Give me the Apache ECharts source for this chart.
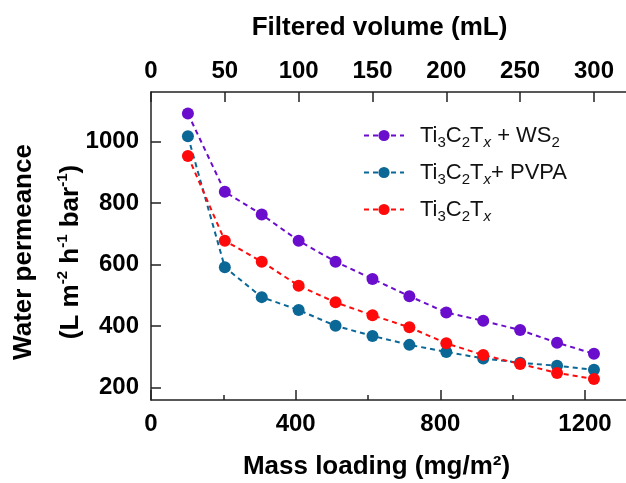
<!DOCTYPE html>
<html>
<head>
<meta charset="utf-8">
<script src="https://cdn.jsdelivr.net/npm/echarts@6/dist/echarts.min.js"></script>
<style>
  html, body { margin: 0; padding: 0; background: #fff; }
  #main { width: 626px; height: 483px; }
</style>
</head>
<body>
<div id="main"></div>
<script>
// data
var volumes = [25, 50, 75, 100, 125, 150, 175, 200, 225, 250, 275, 300];
var ws2Values = [1090, 836, 762, 677, 609, 553, 497, 444, 417, 387, 346, 310];
var pvpaValues = [1016, 591, 494, 452, 401, 368, 339, 316, 295, 281, 271, 258];
var bareValues = [952, 677, 609, 531, 477, 435, 396, 344, 306, 277, 248, 228];

var volumeTicks = [0, 50, 100, 150, 200, 250, 300];
var massTicks = [0, 400, 800, 1200];
var massMinorTicks = [200, 600, 1000];
var permTicks = [200, 400, 600, 800, 1000];

var seriesNames = ['Ti3C2Tx + WS2', 'Ti3C2Tx+ PVPA', 'Ti3C2Tx'];
var seriesColors = ['#6a0dcc', '#0a6796', '#ff0a0a'];

var FONT = '"Liberation Sans", Arial, sans-serif';

function pairs(vals) {
  return vals.map(function (v, i) { return [volumes[i], v]; });
}
function plain(v) { return String(v); }

// legend labels with sub-scripts
var legendText = {
  'Ti3C2Tx + WS2': '{g|}{n|Ti}{s|3}{n|C}{s|2}{n|T}{x|x}{n| + WS}{s|2}',
  'Ti3C2Tx+ PVPA': '{g|}{n|Ti}{s|3}{n|C}{s|2}{n|T}{x|x}{n|+ PVPA}',
  'Ti3C2Tx': '{g|}{n|Ti}{s|3}{n|C}{s|2}{n|T}{x|x}'
};

var myChart = echarts.init(document.getElementById('main'));

var axisLine = { lineStyle: { color: '#222', width: 1.5 } };
var tickFont = { fontFamily: FONT, fontWeight: 'bold', fontSize: 24, color: '#000', formatter: plain };
function nameFont(shift) {
  return { fontFamily: FONT, fontWeight: 'bold', fontSize: 26, color: '#000', padding: [0, shift, 0, 0] };
}

var option = {
  animation: false,
  backgroundColor: '#fff',
  grid: { left: 151, top: 92, right: 0, bottom: 83, outerBoundsMode: 'none' },
  legend: {
    orient: 'vertical',
    left: 358,
    top: 116,
    itemWidth: 40,
    itemHeight: 14,
    itemGap: 8,
    data: seriesNames,
    formatter: function (name) { return legendText[name]; },
    textStyle: {
      fontFamily: FONT,
      rich: {
        g: { width: 11, fontSize: 22, lineHeight: 28 },
        n: { fontSize: 22, color: '#111', fontFamily: FONT, lineHeight: 28 },
        s: { fontSize: 15, color: '#111', fontFamily: FONT, padding: [14, 0, 0, 0], lineHeight: 15 },
        x: { fontSize: 15, color: '#111', fontFamily: FONT, fontStyle: 'italic', padding: [14, 0, 0, 0], lineHeight: 15 }
      }
    }
  },
  xAxis: [
    {
      type: 'value',
      position: 'bottom',
      min: 0,
      max: 1313.4,
      name: 'Mass loading (mg/m²)',
      nameLocation: 'middle',
      nameGap: 54,
      nameMoveOverlap: false,
      nameTextStyle: nameFont(24),
      axisLine: axisLine,
      splitLine: { show: false },
      axisTick: { inside: true, length: 10, customValues: massTicks, lineStyle: { color: '#222', width: 1.5 } },
      axisLabel: Object.assign({ margin: 12, customValues: massTicks }, tickFont)
    },
    {
      type: 'value',
      position: 'top',
      min: 0,
      max: 321.7,
      name: 'Filtered volume (mL)',
      nameLocation: 'middle',
      nameGap: 51,
      nameMoveOverlap: false,
      nameTextStyle: nameFont(18),
      axisLine: axisLine,
      splitLine: { show: false },
      axisTick: { inside: true, length: 10, customValues: volumeTicks, lineStyle: { color: '#222', width: 1.5 } },
      axisLabel: Object.assign({ margin: 9, customValues: volumeTicks }, tickFont)
    },
    {
      // minor ticks of the bottom axis
      type: 'value',
      position: 'bottom',
      min: 0,
      max: 1313.4,
      axisLine: { show: false },
      splitLine: { show: false },
      axisTick: { inside: true, length: 5, customValues: massMinorTicks, lineStyle: { color: '#222', width: 1.5 } },
      axisLabel: { show: false }
    }
  ],
  yAxis: {
    type: 'value',
    min: 160,
    max: 1160,
    name: '{a|Water permeance}\n{a|(L m}{p|-2}{a| h}{p|-1}{a| bar}{p|-1}{a|)}',
    nameLocation: 'middle',
    nameGap: 57,
    nameMoveOverlap: false,
    nameTextStyle: {
      fontFamily: FONT,
      fontWeight: 'bold',
      padding: [0, 12, 0, 0],
      rich: {
        a: { fontFamily: FONT, fontWeight: 'bold', fontSize: 26, lineHeight: 47, color: '#000' },
        p: { fontFamily: FONT, fontWeight: 'bold', fontSize: 15, lineHeight: 15, padding: [0, 0, 16, 0], color: '#000' }
      }
    },
    axisLine: axisLine,
    splitLine: { show: false },
    axisTick: { inside: true, length: 10, customValues: permTicks, lineStyle: { color: '#222', width: 1.5 } },
    axisLabel: Object.assign({ margin: 12, customValues: permTicks }, tickFont)
  },
  series: [
    { name: seriesNames[0], data: pairs(ws2Values), color: seriesColors[0] },
    { name: seriesNames[1], data: pairs(pvpaValues), color: seriesColors[1] },
    { name: seriesNames[2], data: pairs(bareValues), color: seriesColors[2] }
  ].map(function (s) {
    return {
      name: s.name,
      type: 'line',
      xAxisIndex: 1,
      data: s.data,
      symbol: 'circle',
      symbolSize: 12,
      itemStyle: { color: s.color },
      lineStyle: { color: s.color, width: 2, type: [5, 4] }
    };
  })
};

myChart.setOption(option);
</script>
</body>
</html>
